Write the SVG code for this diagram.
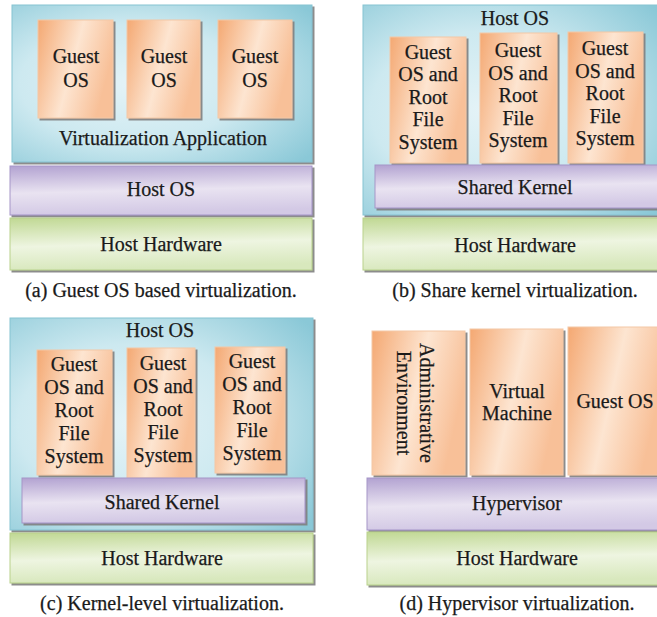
<svg xmlns="http://www.w3.org/2000/svg" width="657" height="617" viewBox="0 0 657 617">
<defs>
  <radialGradient id="gBlue" cx="0.4" cy="0.5" r="0.75">
    <stop offset="0" stop-color="#e4f3f7"/>
    <stop offset="0.5" stop-color="#cde9f0"/>
    <stop offset="1" stop-color="#8ac8d7"/>
  </radialGradient>
  <linearGradient id="gOrange" x1="0" y1="0" x2="1" y2="0.35">
    <stop offset="0" stop-color="#f4a872"/>
    <stop offset="0.55" stop-color="#fde5d1"/>
    <stop offset="1" stop-color="#f8c098"/>
  </linearGradient>
  <linearGradient id="gPurple" x1="0" y1="0" x2="0.15" y2="1">
    <stop offset="0" stop-color="#b2a2d1"/>
    <stop offset="0.55" stop-color="#e9e3f1"/>
    <stop offset="1" stop-color="#d3c9e5"/>
  </linearGradient>
  <linearGradient id="gGreen" x1="0" y1="0" x2="0.15" y2="1">
    <stop offset="0" stop-color="#c0d893"/>
    <stop offset="0.55" stop-color="#eef5e1"/>
    <stop offset="1" stop-color="#d8e8bd"/>
  </linearGradient>
  <filter id="sh" x="-10%" y="-10%" width="130%" height="130%">
    <feDropShadow dx="2" dy="2" stdDeviation="0.7" flood-color="#7f7f7f" flood-opacity="0.9"/>
  </filter>
</defs>
<style>
  text { font-family: 'Liberation Serif', 'Times New Roman', serif; font-size: 20px; fill: #1a1a1a; stroke: #1a1a1a; stroke-width: 0.25; text-anchor: middle; }
  .blue { fill: url(#gBlue); stroke: #86c3d2; stroke-width: 1; filter: url(#sh); }
  .or { fill: url(#gOrange); stroke: #f3c8a6; stroke-width: 1; filter: url(#sh); }
  .pu { fill: url(#gPurple); stroke: #a595c8; stroke-width: 1; filter: url(#sh); }
  .gr { fill: url(#gGreen); stroke: #b9d28c; stroke-width: 1; filter: url(#sh); }
</style>
<rect width="657" height="617" fill="#ffffff"/>

<!-- Panel (a) -->
<g id="a-virt-app">
  <rect class="blue" x="12" y="5" width="300" height="157"/>
  <text x="163" y="145">Virtualization Application</text>
</g>
<g id="a-guest1">
  <rect class="or" x="38" y="20" width="75" height="98"/>
  <text x="76" y="63">Guest</text><text x="76" y="87">OS</text>
</g>
<g id="a-guest2">
  <rect class="or" x="127" y="20" width="73" height="98"/>
  <text x="164" y="63">Guest</text><text x="164" y="87">OS</text>
</g>
<g id="a-guest3">
  <rect class="or" x="218" y="20" width="74" height="98"/>
  <text x="255" y="63">Guest</text><text x="255" y="87">OS</text>
</g>
<g id="a-hostos">
  <rect class="pu" x="10" y="166" width="302" height="49"/>
  <text x="161" y="196">Host OS</text>
</g>
<g id="a-hw">
  <rect class="gr" x="10" y="218" width="302" height="52"/>
  <text x="161" y="251">Host Hardware</text>
</g>
<text id="cap-a" x="161" y="297">(a) Guest OS based virtualization.</text>

<!-- Panel (b) -->
<g id="b-hostos">
  <rect class="blue" x="363" y="5" width="300" height="210"/>
  <text x="515" y="25">Host OS</text>
</g>
<g id="b-guest1">
  <rect class="or" x="390" y="37" width="76" height="126"/>
  <text x="428" y="59">Guest</text><text x="428" y="81">OS and</text><text x="428" y="104">Root</text><text x="428" y="126">File</text><text x="428" y="149">System</text>
</g>
<g id="b-guest2">
  <rect class="or" x="480" y="33" width="77" height="130"/>
  <text x="518" y="57">Guest</text><text x="518" y="80">OS and</text><text x="518" y="102">Root</text><text x="518" y="125">File</text><text x="518" y="147">System</text>
</g>
<g id="b-guest3">
  <rect class="or" x="568" y="32" width="75" height="131"/>
  <text x="605" y="55">Guest</text><text x="605" y="78">OS and</text><text x="605" y="100">Root</text><text x="605" y="123">File</text><text x="605" y="145">System</text>
</g>
<g id="b-kernel">
  <rect class="pu" x="375" y="165" width="290" height="43"/>
  <text x="515" y="194">Shared Kernel</text>
</g>
<g id="b-hw">
  <rect class="gr" x="363" y="218" width="300" height="52"/>
  <text x="515" y="252">Host Hardware</text>
</g>
<text id="cap-b" x="515" y="297">(b) Share kernel virtualization.</text>

<!-- Panel (c) -->
<g id="c-hostos">
  <rect class="blue" x="10" y="318" width="303" height="212"/>
  <text x="160" y="337">Host OS</text>
</g>
<g id="c-guest1">
  <rect class="or" x="37" y="350" width="75" height="125"/>
  <text x="74" y="371">Guest</text><text x="74" y="394">OS and</text><text x="74" y="417">Root</text><text x="74" y="440">File</text><text x="74" y="463">System</text>
</g>
<g id="c-guest2">
  <rect class="or" x="127" y="348" width="68" height="130"/>
  <text x="163" y="370">Guest</text><text x="163" y="393">OS and</text><text x="163" y="416">Root</text><text x="163" y="439">File</text><text x="163" y="462">System</text>
</g>
<g id="c-guest3">
  <rect class="or" x="215" y="347" width="70" height="126"/>
  <text x="252" y="368">Guest</text><text x="252" y="391">OS and</text><text x="252" y="414">Root</text><text x="252" y="437">File</text><text x="252" y="460">System</text>
</g>
<g id="c-kernel">
  <rect class="pu" x="22" y="478" width="283" height="45"/>
  <text x="162" y="509">Shared Kernel</text>
</g>
<g id="c-hw">
  <rect class="gr" x="10" y="533" width="303" height="50"/>
  <text x="162" y="565">Host Hardware</text>
</g>
<text id="cap-c" x="162" y="610">(c) Kernel-level virtualization.</text>

<!-- Panel (d) -->
<g id="d-admin">
  <rect class="or" x="372" y="331" width="93" height="144"/>
  <text transform="translate(420,403) rotate(90)"><tspan x="0" y="0">Administrative</tspan><tspan x="0" y="23">Environment</tspan></text>
</g>
<g id="d-vm">
  <rect class="or" x="470" y="329" width="93" height="146"/>
  <text x="517" y="398">Virtual</text><text x="517" y="420">Machine</text>
</g>
<g id="d-guest">
  <rect class="or" x="568" y="327" width="95" height="148"/>
  <text x="615" y="408">Guest OS</text>
</g>
<g id="d-hyper">
  <rect class="pu" x="367" y="478" width="295" height="52"/>
  <text x="517" y="510">Hypervisor</text>
</g>
<g id="d-hw">
  <rect class="gr" x="367" y="532" width="295" height="53"/>
  <text x="517" y="565">Host Hardware</text>
</g>
<text id="cap-d" x="517" y="610">(d) Hypervisor virtualization.</text>
</svg>
